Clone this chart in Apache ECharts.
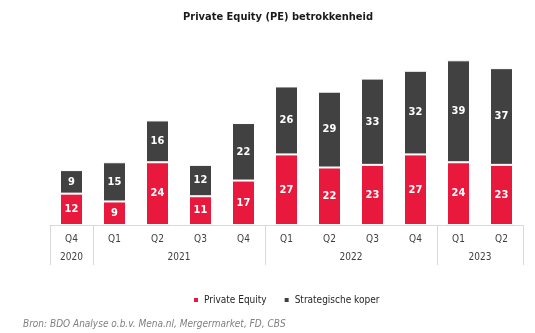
<!DOCTYPE html>
<html>
<head>
<meta charset="utf-8">
<script src="https://cdn.jsdelivr.net/npm/echarts@6/dist/echarts.min.js"></script>
<style>
  html, body { margin: 0; padding: 0; background: #ffffff; }
  #chart { width: 535px; height: 333px; }
</style>
</head>
<body>
<div id="chart"></div>
<script>
// Quarters along the axis and the year each one belongs to
const quarters = ['Q4', 'Q1', 'Q2', 'Q3', 'Q4', 'Q1', 'Q2', 'Q3', 'Q4', 'Q1', 'Q2'];
const years = ['2020', '2021', '2021', '2021', '2021', '2022', '2022', '2022', '2022', '2023', '2023'];

// Deal counts per quarter
const privateEquity = [12, 9, 24, 11, 17, 27, 22, 23, 27, 24, 23];
const strategischeKoper = [9, 15, 16, 12, 22, 26, 29, 33, 32, 39, 37];

const RED = '#E8193C';
const DARK = '#414141';
const FONT = '"DejaVu Sans Condensed", "DejaVu Sans", Verdana, sans-serif';

// First index of each year group (where a separator is drawn)
const groupStarts = years.map((y, i) => (i === 0 || years[i - 1] !== y) ? i : -1).filter(i => i >= 0);

// Year labels: shown once per group, shifted to the group's middle
function yearLabel(value, index) {
  const start = groupStarts.filter(s => s <= index).pop();
  let end = start;
  while (end + 1 < years.length && years[end + 1] === years[start]) end++;
  const len = end - start + 1;
  const mid = start + Math.floor((len - 1) / 2);
  if (index !== mid) return '';
  return len % 2 === 0 ? '{shift|' + value + '}' : '{plain|' + value + '}';
}

const chart = echarts.init(document.getElementById('chart'), null, { renderer: 'canvas' });

const segLabel = {
  show: true,
  position: 'inside',
  color: '#ffffff',
  fontFamily: FONT,
  fontWeight: 'bold',
  fontSize: 11
};

chart.setOption({
  animation: false,
  textStyle: { fontFamily: FONT },
  title: [{
    text: 'Private Equity (PE) betrokkenheid',
    left: 178,
    top: 7,
    textStyle: { fontFamily: FONT, fontSize: 11, fontWeight: 'bold', color: '#1a1a1a' }
  }, {
    text: 'Bron: BDO Analyse o.b.v. Mena.nl, Mergermarket, FD, CBS',
    left: 18,
    top: 314,
    textStyle: { fontFamily: FONT, fontSize: 10, fontStyle: 'italic', fontWeight: 'normal', color: '#7f7f7f' }
  }],
  legend: {
    top: 290,
    left: 187,
    itemWidth: 6,
    itemHeight: 6,
    itemGap: 16,
    icon: 'rect',
    textStyle: { fontFamily: FONT, fontSize: 10, color: '#262626' },
    data: ['Private Equity', 'Strategische koper']
  },
  grid: { left: 50, right: 12, top: 42, height: 183 },
  xAxis: [{
    type: 'category',
    data: quarters,
    position: 'bottom',
    axisLine: { show: true, lineStyle: { color: '#d9d9d9', width: 1 } },
    axisTick: { show: false },
    axisLabel: { interval: 0, margin: 9, fontFamily: FONT, fontSize: 10, color: '#404040' }
  }, {
    type: 'category',
    data: years,
    position: 'bottom',
    axisLine: { show: false },
    axisTick: {
      show: true,
      length: 40,
      interval: (index) => groupStarts.includes(index),
      lineStyle: { color: '#d9d9d9', width: 1 }
    },
    axisLabel: {
      interval: 0,
      margin: 27,
      formatter: yearLabel,
      rich: {
        plain: { fontFamily: FONT, fontSize: 10, color: '#404040' },
        shift: { fontFamily: FONT, fontSize: 10, color: '#404040', padding: [0, 0, 0, 43] }
      }
    }
  }],
  yAxis: {
    type: 'value',
    min: 0,
    max: 70,
    show: false,
    splitLine: { show: false }
  },
  series: [{
    name: 'Private Equity',
    type: 'bar',
    stack: 'deals',
    barWidth: 23,
    data: privateEquity,
    itemStyle: { color: RED, borderColor: '#ffffff', borderWidth: 1 },
    label: segLabel
  }, {
    name: 'Strategische koper',
    type: 'bar',
    stack: 'deals',
    barWidth: 23,
    data: strategischeKoper,
    itemStyle: { color: DARK, borderColor: '#ffffff', borderWidth: 1 },
    label: segLabel
  }]
});
</script>
</body>
</html>
